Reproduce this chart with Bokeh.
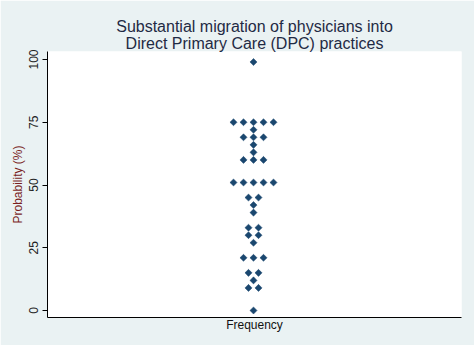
import math
from bokeh.plotting import figure
from bokeh.models import ColumnDataSource, Title, FixedTicker, Range1d
from bokeh.embed import file_html
from bokeh.resources import INLINE

# Data
values = [0, 9, 12, 15, 21, 27, 30, 33, 39, 42, 45, 51, 60, 63, 66, 69, 72, 75, 99]
counts = [1, 2, 1, 2, 3, 1, 2, 2, 1, 1, 2, 5, 3, 1, 1, 3, 1, 5, 1]
title_lines = ["Substantial migration of physicians into", "Direct Primary Care (DPC) practices"]
y_ticks = [0, 25, 50, 75, 100]
y_label = "Probability (%)"
x_label = "Frequency"

# stack dots horizontally, centred on the category
xs, ys = [], []
for v, c in zip(values, counts):
    for i in range(c):
        xs.append(i - (c - 1) / 2)
        ys.append(v)
src = ColumnDataSource(dict(x=xs, y=ys))

BG = "#eaf2f3"
FONT = "Liberation Sans"

p = figure(frame_width=414, frame_height=266,
           min_border_left=47, min_border_right=13,
           min_border_top=51, min_border_bottom=28,
           x_range=Range1d(-20.6, 20.8), y_range=Range1d(-2.79, 103.19),
           output_backend="svg", toolbar_location=None)
p.border_fill_color = BG
p.background_fill_color = "white"
p.outline_line_color = None
p.grid.visible = False

p.scatter("x", "y", source=src, marker="square", angle=math.pi / 4, size=5,
          fill_color="#1a476f", line_color="#1a476f", line_width=0.5)

# titles (second line added first so it sits closer to the plot)
p.add_layout(Title(text=title_lines[1], align="center", text_font=FONT,
                   text_font_size="16px", text_font_style="normal",
                   text_color="#1f2a44", standoff=0), "above")
p.add_layout(Title(text=title_lines[0], align="center", text_font=FONT,
                   text_font_size="16px", text_font_style="normal",
                   text_color="#1f2a44", standoff=-5), "above")

ya = p.yaxis[0]
ya.ticker = FixedTicker(ticks=y_ticks)
ya.major_label_orientation = "vertical"
ya.major_label_text_font = FONT
ya.major_label_text_font_size = "12px"
ya.major_label_text_color = "#222222"
ya.major_label_standoff = 4
ya.major_tick_out = 5
ya.major_tick_in = 0
ya.minor_tick_line_color = None
ya.axis_line_color = "black"
ya.major_tick_line_color = "black"
ya.axis_label = y_label
ya.axis_label_text_font = FONT
ya.axis_label_text_font_size = "12px"
ya.axis_label_text_font_style = "normal"
ya.axis_label_text_color = "#7a1f1f"
ya.axis_label_standoff = 2

xa = p.xaxis[0]
xa.ticker = FixedTicker(ticks=[])
xa.major_tick_line_color = None
xa.minor_tick_line_color = None
xa.major_label_text_font_size = "0px"
xa.axis_line_color = "black"
xa.axis_label = x_label
xa.axis_label_text_font = FONT
xa.axis_label_text_font_size = "12px"
xa.axis_label_text_font_style = "normal"
xa.axis_label_text_color = "#111111"
xa.axis_label_standoff = 0

open("out.html", "w").write(file_html(p, INLINE))
